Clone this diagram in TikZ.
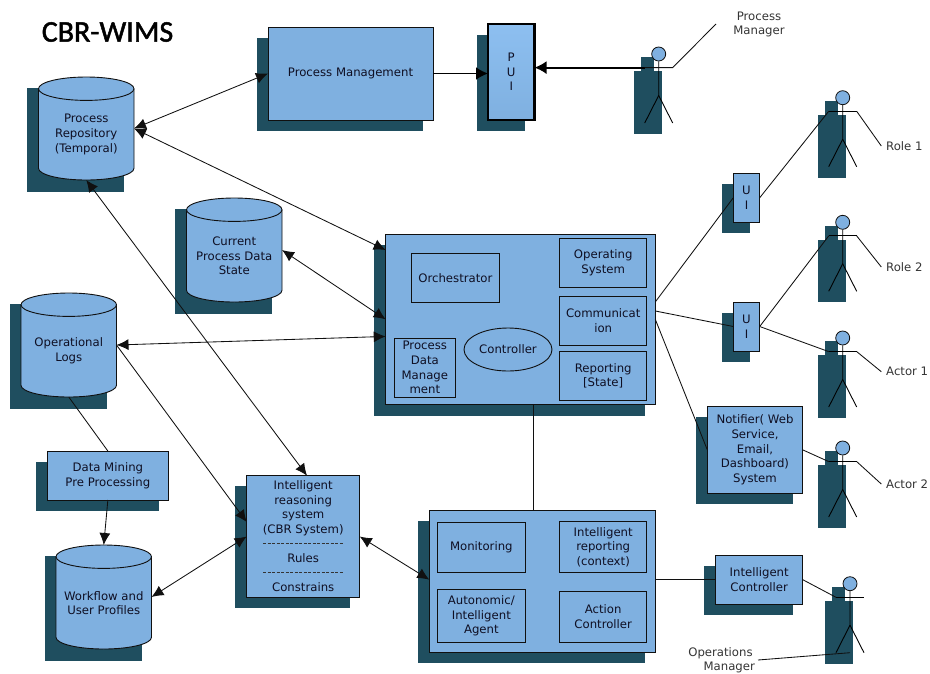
\documentclass[tikz,border=0pt]{standalone}
\usepackage{fontspec}
\setmainfont{DejaVu Sans}
\newfontfamily\titlefont[FakeBold=1.6]{Carlito}
\usetikzlibrary{arrows.meta,shapes.geometric,calc}
\definecolor{blu}{HTML}{7FB0E0}
\definecolor{blulight}{HTML}{8DBFF0}
\definecolor{shad}{HTML}{1F4E5F}
\definecolor{ink}{HTML}{101010}
\tikzset{
  txt/.style={font=\fontsize{11.7}{14.6}\selectfont,align=center,text=ink!92!blue,inner sep=0pt,outer sep=0pt},
  boxnode/.style={txt,draw=ink,line width=0.9pt,fill=blu,rectangle},
  plainlabel/.style={font=\fontsize{11.7}{14}\selectfont,align=center,text=ink!85,inner sep=0pt},
  shadowrect/.style={fill=shad,draw=none},
  conn/.style={draw=ink,line width=0.85pt},
  both/.style={conn,{Latex[length=12pt,width=11pt]}-{Latex[length=12pt,width=11pt]}},
  tohead/.style={conn,-{Latex[length=12pt,width=11pt]}},
  thickarrow/.style={draw=black,line width=1.9pt,-{Latex[length=12pt,width=13pt]}},
  stick/.style={draw=black,line width=0.9pt},
}
% name x1 y1 x2 y2 options text
\newcommand\bx[7][]{%
  \fill[shadowrect] ({#3-11.5},{#4+10.5}) rectangle ({#5-10},{#6+11});
  \node[boxnode,minimum width={(#5-#3)*1pt},minimum height={(#6-#4)*1pt},#1] (#2) at ({(#3+#5)/2},{(#4+#6)/2}) {#7};
}
\newcommand\ib[6]{%
  \node[boxnode,minimum width={(#4-#2)*1pt},minimum height={(#5-#3)*1pt}] (#1) at ({(#2+#4)/2},{(#3+#5)/2}) {#6};
}
% name x1 ytop ybot text
\newcommand\cyl[5]{%
  \fill[shadowrect] ({#2-11.5},{#3+10.5}) rectangle ({#2+85.5},{#4+12});
  \path[draw=ink,line width=0.9pt,fill=blu] (#2,{#3+11.7}) -- (#2,{#4-11.7})
     arc[start angle=180,end angle=0,x radius=47.75,y radius=11.7]
     -- ({#2+95.5},{#3+11.7});
  \path[draw=ink,line width=0.9pt,fill=blu] ({#2+47.75},{#3+11.7}) ellipse[x radius=47.75,y radius=11.7];
  \node[minimum width=95.5pt,minimum height={(#4-#3)*1pt},inner sep=0pt,outer sep=0pt] (#1) at ({#2+47.75},{(#3+#4)/2}) {};
  \node[txt] (#1-text) at ({#2+47.75},{(#3+#4)/2+6}) {#5};
}
% name hx hy
\newcommand\actor[3]{%
  \fill[shadowrect] ({#2-18},{#3+3.3}) rectangle ({#2-4.7},{#3+18});
  \fill[shadowrect] ({#2-25.2},{#3+17.3}) rectangle ({#2+3.3},{#3+80});
  \node[circle,draw=ink,line width=0.8pt,fill=blu,minimum size=14pt,inner sep=0pt] (#1) at (#2,#3) {};
  \coordinate (#1-l) at ({#2-14},{#3+13.6});
  \coordinate (#1-r) at ({#2+14},{#3+13.6});
  \coordinate (#1-f) at (#2,{#3+69});
  \draw[stick] (#1.south) -- (#2,{#3+41.5}) -- ({#2-14},{#3+69});
  \draw[stick] (#2,{#3+41.5}) -- ({#2+14},{#3+69});
  \draw[stick] (#1-l) -- (#1-r);
}
\begin{document}
\begin{tikzpicture}[x=1pt,y=-1pt]
\useasboundingbox (0,0) rectangle (930,673);
\node[inner sep=0pt,text=black] (title) at (107.5,32) {\titlefont\fontsize{30}{30}\selectfont CBR-WIMS};

\cyl{repo}{38.5}{77}{180}{Process\\Repository\\(Temporal)}
\cyl{cur}{186.5}{198}{302}{Current\\Process Data\\State}
\cyl{oplog}{21}{293}{397}{Operational\\Logs}
\cyl{wf}{56}{545}{649}{Workflow and\\User Profiles}

\bx{pm}{268}{27}{433}{120}{Process Management}
\bx[line width=2.5pt,draw=black,top color=blulight,bottom color=blu]{pui}{488}{24}{534.5}{120}{P\\U\\I}

\bx{main}{385.7}{234}{655.3}{404.7}{}
\ib{orch}{411.7}{253.5}{499}{302.5}{Orchestrator}
\ib{os}{559.7}{238.5}{646.7}{287.5}{Operating\\System}
\ib{comm}{559.7}{296}{646.7}{345}{Communicat\\ion}
\ib{rep}{559.7}{351.3}{646.7}{400.3}{Reporting\\{[State]}}
\ib{pdm}{394.3}{338}{455.3}{397.3}{Process\\Data\\Manage\\ment}
\node[boxnode,ellipse,minimum width=88pt,minimum height=43pt] (ctrl) at (508,349.5) {Controller};

\bx{bot}{429.3}{510.7}{655.3}{652.3}{}
\ib{mon}{437.7}{522.3}{525}{572.3}{Monitoring}
\ib{irep}{559.7}{521.7}{646.7}{572.3}{Intelligent\\reporting\\(context)}
\ib{auto}{437.7}{589.7}{525}{642}{Autonomic/\\Intelligent\\Agent}
\ib{act}{559.7}{591.7}{646.7}{642}{Action\\Controller}

\bx{ui1}{733.3}{173.5}{759.7}{222}{U\\I}
\bx{ui2}{733.3}{302}{759.7}{351}{U\\I}
\bx{notif}{707.3}{406.7}{802.7}{493}{Notifier( Web\\Service,\\Email,\\Dashboard)\\System}
\bx{ic}{715.7}{555.3}{802.7}{604}{Intelligent\\Controller}
\bx{dm}{47}{451}{168.7}{500}{Data Mining\\Pre Processing}
\bx{irs}{246.7}{475.7}{359.7}{597.3}{Intelligent\\reasoning\\system\\(CBR System)\\~\\Rules\\~\\Constrains}
\draw[ink!85,line width=0.8pt,dash pattern=on 3pt off 1.5pt] (263,543.7) -- (343,543.7);
\draw[ink!85,line width=0.8pt,dash pattern=on 3pt off 1.5pt] (263,572.7) -- (343,572.7);

\actor{apm}{658.7}{54}
\actor{arole1}{842.7}{97.7}
\actor{arole2}{842.7}{222.3}
\actor{aact1}{842.7}{338}
\actor{aact2}{842.7}{448}
\actor{aops}{850}{583.7}

\node[plainlabel] (lpm) at (759,24) {Process\\Manager};
\node[plainlabel,anchor=west] (lr1) at (886,146) {Role 1};
\node[plainlabel,anchor=west] (lr2) at (886,267) {Role 2};
\node[plainlabel,anchor=west] (la1) at (886,371) {Actor 1};
\node[plainlabel,anchor=west] (la2) at (886,484) {Actor 2};
\node[plainlabel] (lops) at (720.5,660) {Operations\\\hspace*{1.5em}Manager};

\coordinate (lpmend) at (716,24);
\coordinate (lr1end) at (881.3,146);
\coordinate (lr2end) at (881.3,267);
\coordinate (la1end) at (881.3,371.7);
\coordinate (la2end) at (881.3,484);
\coordinate (lopsend) at (758,660);

\draw[both] (repo.east) -- (pm.west);
\draw[both] (repo.east) -- ($(main.north west)!0.0937!(main.south west)$);
\draw[both] (repo.south) -- ($(irs.north west)!0.534!(irs.north east)$);
\draw[both] (cur.east) -- (main.west);
\draw[both] (oplog.east) -- ($(main.north west)!0.6!(main.south west)$);
\draw[tohead] (oplog.east) -- ($(irs.north west)!0.381!(irs.south west)$);
\draw[conn] (oplog.south) -- (dm.north);
\draw[tohead] (dm.south) -- (wf.north);
\draw[both] (wf.east) -- (irs.west);
\draw[both] (irs.east) -- ($(bot.north west)!0.487!(bot.south west)$);
\coordinate (mainlow) at ($(main.south west)!0.5475!(main.south east)$);
\draw[conn] (mainlow) -- (mainlow |- bot.north);
\draw[thickarrow] (pm.east) -- (pm.east -| pui.west);
\draw[thickarrow] (apm-l) -- (apm-l -| pui.east);
\draw[conn] (apm-l) -- (apm-r) -- (lpmend);
\draw[conn] ($(main.north east)!0.398!(main.south east)$) -- (ui1.west);
\draw[conn] (ui1.east) -- (arole1-l);
\draw[conn] (arole1-r) -- (lr1end);
\draw[conn] ($(main.north east)!0.451!(main.south east)$) -- (ui2.west);
\draw[conn] (ui2.east) -- (arole2-l);
\draw[conn] (arole2-r) -- (lr2end);
\draw[conn] (ui2.east) -- (aact1-l);
\draw[conn] (aact1-r) -- (la1end);
\draw[conn] (main.east) -- (notif.west);
\draw[conn] (notif.east) -- (aact2-l);
\draw[conn] (aact2-r) -- (la2end);
\draw[conn] (ic.west -| bot.east) -- (ic.west);
\draw[conn] (ic.east) -- (aops-l);
\draw[conn] (lopsend) -- (aops-f);
\end{tikzpicture}
\end{document}
